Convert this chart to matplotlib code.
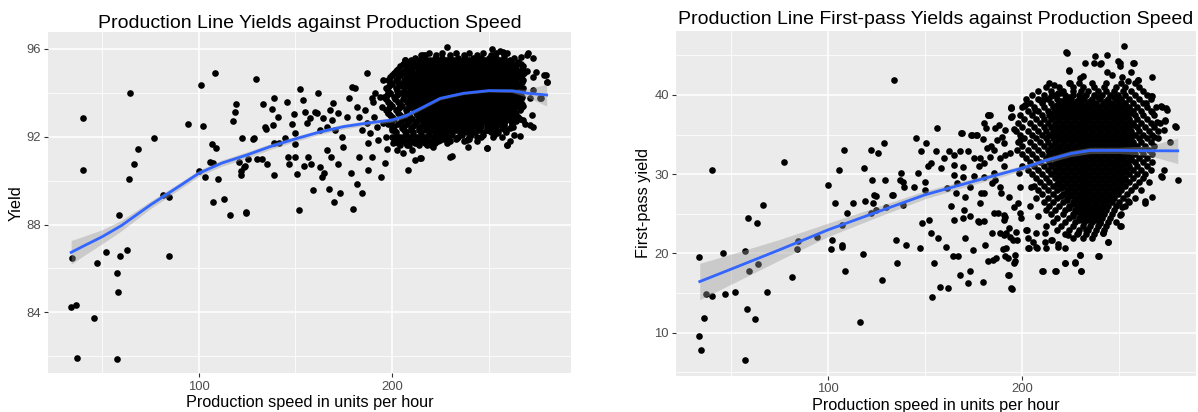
import numpy as np
import matplotlib
matplotlib.use('Agg')
import matplotlib.pyplot as plt

plt.rcParams['font.family'] = ['Liberation Sans', 'DejaVu Sans']

# ---------------- left chart: yield vs speed ----------------
# scattered points outside the dense cloud
left_sparse = [
    (33.9, 84.24), (36.3, 84.31), (37.0, 81.93), (34.4, 86.46), (40.3, 92.87), (40.1, 90.50),
    (45.8, 83.75), (47.2, 86.26), (52.1, 86.76), (57.5, 85.80), (58.2, 84.92), (57.6, 81.88),
    (58.7, 88.43), (59.4, 86.58), (62.7, 86.84), (63.7, 90.07), (64.2, 93.98), (66.5, 90.77),
    (68.6, 91.46), (76.9, 91.93), (81.4, 89.34), (84.4, 89.25), (84.7, 86.58), (94.6, 92.57),
    (100.2, 90.45), (101.4, 94.37), (102.4, 92.47), (103.5, 90.15), (105.7, 90.85), (107.1, 91.65),
    (107.6, 90.82), (107.6, 89.01), (108.3, 94.92), (109.0, 91.49), (110.2, 90.09), (113.0, 89.16),
    (116.3, 88.42), (117.9, 92.73), (118.6, 93.11), (119.4, 93.49), (121.0, 90.86), (121.9, 90.26),
    (122.0, 90.45), (122.6, 91.96), (123.3, 90.64), (124.0, 90.68), (124.5, 88.58), (124.7, 88.54),
    (125.5, 90.98), (128.0, 91.90), (128.8, 91.93), (129.5, 94.62), (130.4, 90.98), (133.0, 90.98),
    (133.3, 93.49), (134.2, 92.46), (134.9, 92.37), (135.4, 90.76), (137.8, 93.26), (138.2, 92.53),
    (138.9, 93.75), (139.2, 90.27), (138.9, 91.70), (141.0, 92.91), (141.7, 91.73), (144.6, 91.96),
    (145.7, 93.60), (146.0, 91.08), (146.5, 90.74), (148.3, 92.57), (149.3, 93.04), (149.8, 92.19),
    (149.8, 91.65), (149.7, 91.09), (150.9, 90.29), (151.9, 88.66), (152.3, 94.16),
    (154.5, 90.67), (156.8, 91.09), (158.1, 90.74), (159.3, 89.57), (161.9, 94.01), (162.8, 90.64),
    (163.8, 90.18), (164.8, 90.33), (166.2, 91.40), (167.2, 89.63), (168.4, 91.09), (169.9, 89.04),
    (172.0, 90.74), (173.2, 89.42), (178.6, 90.33), (180.0, 88.71), (181.8, 89.83), (184.7, 89.42),
    (183.0, 91.09), (186.9, 94.92), (187.8, 90.48), (194.3, 90.18), (196.4, 90.79), (197.6, 91.43),
    (208.1, 90.48), (211.9, 90.94), (215.0, 91.02), (230.9, 91.12), (249.3, 91.47), (259.3, 91.62),
    (261.0, 91.80), (263.3, 92.08), (266.2, 92.03), (273.1, 92.46), (271.4, 92.53), (280.4, 94.48),
    (279.6, 94.81), (277.0, 93.75), (274.4, 94.97), (270.1, 95.80), (266.6, 95.65), (273.1, 94.13),
    (251.6, 96.0), (228.3, 96.1), (255.9, 95.92), (259.3, 95.8), (217.1, 95.73), (206.9, 95.50),
    (202.4, 95.01), (195.2, 94.59), (191.2, 93.98), (190.0, 93.6),
    (154.2, 93.67), (155.0, 93.14), (155.9, 92.61), (157.6, 92.84), (160.2, 93.14), (161.4, 93.07),
    (162.8, 92.31), (164.5, 92.84), (166.2, 92.46), (168.0, 93.22), (168.8, 92.76), (169.7, 93.52),
    (170.5, 92.31), (172.2, 93.07), (174.0, 92.0), (174.8, 91.55), (176.6, 92.91), (177.9, 93.75),
    (179.1, 94.28), (180.9, 94.21), (181.8, 93.37), (183.1, 92.91), (184.3, 92.31), (186.1, 93.22),
    (186.9, 92.61), (187.8, 91.70), (188.6, 92.15), (189.5, 91.09), (190.7, 92.91), (192.1, 92.46),
    (192.9, 91.85), (193.8, 93.83), (194.7, 93.37), (195.5, 92.61), (196.9, 92.0), (198.1, 93.07),
    (199.0, 93.98), (199.8, 92.31), (200.7, 91.70), (202.4, 91.40), (204.1, 91.85), (205.9, 91.24),
    (207.6, 91.62), (210.2, 91.40), (212.8, 91.70), (218.0, 91.62), (221.4, 91.55), (224.9, 91.85),
    (228.3, 91.70), (233.4, 91.93), (238.6, 91.85), (243.8, 92.0), (249.0, 92.31), (254.1, 92.15),
    (262.8, 92.46), (267.9, 92.76),
    (216.0, 95.7), (206.7, 95.5), (202.4, 95.04), (257.6, 95.87), (269.8, 95.72), (273.1, 95.58),
    (273.1, 94.7), (278.5, 94.8), (280.2, 94.5), (276.7, 93.75), (271.5, 93.75), (272.4, 92.99),
    (268.8, 92.6), (259.4, 91.62), (249.0, 91.47), (239.4, 91.54), (230.1, 91.09), (214.5, 91.02),
    (189.5, 93.75),
]

# dense cloud, one row of x values per yield level
left_core_y = [95.8, 95.6, 95.4, 95.2, 95.0, 94.8, 94.6, 94.4, 94.2, 94.0, 93.8,
               93.6, 93.4, 93.2, 93.0, 92.8, 92.6, 92.4, 92.2, 92.0, 91.8, 91.6]
left_core_x = [
    [219, 226, 233, 240, 247, 254],
    [212, 217, 222, 226, 230, 234, 238, 242, 246, 250, 254, 258, 263],
    [207, 211, 215, 218, 221, 224, 227, 230, 233, 236, 239, 242, 245, 248, 251, 254, 257, 260, 265],
    [204, 208, 212, 216, 219, 222, 225, 228, 231, 234, 237, 240, 243, 246, 249, 252, 255, 258, 261, 264, 268],
    [202, 206, 210, 213.5, 217, 220, 223, 226, 229, 232, 235, 238, 241, 244, 247, 250, 253, 256, 259, 262, 265, 270],
    [200, 204, 208, 211.5, 215, 218.5, 221.5, 224.5, 227.5, 230.5, 233.5, 236.5, 239.5, 242.5, 245.5, 248.5,
     251.5, 254.5, 257.5, 260.5, 263.5, 267],
    [198, 202, 206, 210, 213, 216, 219, 222, 225, 228, 231, 234, 237, 240, 243, 246, 249, 252, 255, 258, 261,
     264, 268],
    [200, 204, 208, 211.5, 214.5, 217.5, 220.5, 223.5, 226.5, 229.5, 232.5, 235.5, 238.5, 241.5, 244.5, 247.5,
     250.5, 253.5, 256.5, 259.5, 262.5, 266],
    [197, 202, 206, 210, 213, 216, 219, 222, 225, 228, 231, 234, 237, 240, 243, 246, 249, 252, 255, 258, 261,
     264, 268],
    [199, 204, 208, 211.5, 214.5, 217.5, 220.5, 223.5, 226.5, 229.5, 232.5, 235.5, 238.5, 241.5, 244.5, 247.5,
     250.5, 253.5, 256.5, 259.5, 262.5, 266],
    [196, 201, 206, 210, 213, 216, 219, 222, 225, 228, 231, 234, 237, 240, 243, 246, 249, 252, 255, 258, 261,
     264, 267],
    [198, 203, 208, 211.5, 214.5, 217.5, 220.5, 223.5, 226.5, 229.5, 232.5, 235.5, 238.5, 241.5, 244.5, 247.5,
     250.5, 253.5, 256.5, 259.5, 262.5, 265.5],
    [200, 205, 210, 213, 216, 219, 222, 225, 228, 231, 234, 237, 240, 243, 246, 249, 252, 255, 258, 261, 264, 268],
    [197, 202, 207, 211.5, 214.5, 217.5, 220.5, 223.5, 226.5, 229.5, 232.5, 235.5, 238.5, 241.5, 244.5, 247.5,
     250.5, 253.5, 256.5, 259.5, 262.5, 266],
    [199, 204, 209, 213, 216, 219, 222, 225, 228, 231, 234, 237, 240, 243, 246, 249, 252, 255, 258, 261, 264],
    [201, 206, 210.5, 214.5, 217.5, 220.5, 223.5, 226.5, 229.5, 232.5, 235.5, 238.5, 241.5, 244.5, 247.5, 250.5,
     253.5, 256.5, 259.5, 262.5, 266],
    [198, 203, 208, 212, 216, 219, 222, 225, 228, 231, 234, 237, 240, 243, 246, 249, 252, 255, 258, 262],
    [200, 205, 210, 214, 217.5, 220.5, 223.5, 226.5, 229.5, 232.5, 235.5, 238.5, 241.5, 245, 249, 253, 257, 261],
    [202, 207, 211, 215, 219, 222, 225, 228, 231, 235, 239, 243, 247, 251, 255, 259],
    [200, 204, 209, 213, 217, 221, 225, 229, 234, 240, 246, 252, 257],
    [202, 206, 211, 215, 219, 224, 230, 237, 244],
    [204, 209, 214, 220],
]

# the in-between levels of the same cloud
left_fill_y = [95.7, 95.5, 95.3, 95.1, 94.9, 94.7, 94.5, 94.3, 94.1, 93.9, 93.7,
               93.5, 93.3, 93.1, 92.9, 92.7, 92.5, 92.3, 92.1, 91.9, 91.7]
left_fill_x = [
    [215, 223, 230, 237, 244, 251, 258],
    [210, 214, 219.5, 224, 228, 232, 236, 240, 244, 248, 252, 256, 261],
    [205.5, 209.5, 213.5, 216.5, 219.5, 222.5, 225.5, 228.5, 231.5, 234.5, 237.5, 240.5, 243.5, 246.5, 249.5,
     252.5, 255.5, 258.5, 262.5, 266.5],
    [203, 207, 210.5, 214.5, 218, 221, 224, 227, 230, 233, 236, 239, 242, 245, 248, 251, 254, 257, 260, 263, 267],
    [201, 205, 209, 213, 216.5, 219.5, 222.5, 225.5, 228.5, 231.5, 234.5, 237.5, 240.5, 243.5, 246.5, 249.5,
     252.5, 255.5, 258.5, 261.5, 265, 268.5],
    [199, 203, 207, 210.5, 214, 217, 220, 223, 226, 229, 232, 235, 238, 241, 244, 247, 250, 253, 256, 259, 262,
     265.5],
    [199, 203, 206.5, 209.5, 212.5, 215.5, 218.5, 221.5, 224.5, 227.5, 230.5, 233.5, 236.5, 239.5, 242.5, 245.5,
     248.5, 251.5, 254.5, 257.5, 260.5, 263.5, 267],
    [198.5, 203.5, 207, 210.5, 214, 217, 220, 223, 226, 229, 232, 235, 238, 241, 244, 247, 250, 253, 256, 259,
     262, 265],
    [198, 202.5, 206, 209.5, 212.5, 215.5, 218.5, 221.5, 224.5, 227.5, 230.5, 233.5, 236.5, 239.5, 242.5, 245.5,
     248.5, 251.5, 254.5, 257.5, 260.5, 263.5, 267],
    [197.5, 202.5, 207, 210.5, 214, 217, 220, 223, 226, 229, 232, 235, 238, 241, 244, 247, 250, 253, 256, 259,
     262, 265.5],
    [197, 201.5, 205.5, 209.5, 212.5, 215.5, 218.5, 221.5, 224.5, 227.5, 230.5, 233.5, 236.5, 239.5, 242.5,
     245.5, 248.5, 251.5, 254.5, 257.5, 260.5, 263.5, 266.5],
    [199, 204, 209, 213, 216, 219, 222, 225, 228, 231, 234, 237, 240, 243, 246, 249, 252, 255, 258, 261, 264, 267],
    [198.5, 203.5, 208.5, 212, 215, 218, 221, 224, 227, 230, 233, 236, 239, 242, 245, 248, 251, 254, 257, 260,
     263, 266.5],
    [198, 203, 208, 212.5, 215.5, 218.5, 221.5, 224.5, 227.5, 230.5, 233.5, 236.5, 239.5, 242.5, 245.5, 248.5,
     251.5, 254.5, 257.5, 260.5, 263.5],
    [200, 205, 209.5, 214, 217, 220, 223, 226, 229, 232, 235, 238, 241, 244, 247, 250, 253, 256, 259, 262, 265],
    [199.5, 204.5, 209, 213, 216.5, 219.5, 222.5, 225.5, 228.5, 231.5, 234.5, 237.5, 240.5, 243.5, 246.5, 249.5,
     252.5, 255.5, 258.5, 261.5, 264],
    [201, 206, 211, 215, 218.5, 221.5, 224.5, 227.5, 230.5, 233.5, 236.5, 239.5, 242.5, 246, 250, 254, 258, 262],
    [201, 206, 210, 214, 217.5, 220.5, 223.5, 226.5, 229.5, 233, 237, 241, 245, 249.5, 254, 258.5],
    [202, 206.5, 211, 215, 219, 223, 227, 231, 236, 241, 247, 253],
    [201, 205, 209, 213, 217, 221.5, 227, 233, 240],
    [203, 207, 212, 217, 222],
]

# fitted smooth and its confidence half-width
left_fit_x = [34, 40, 50, 60, 75, 90, 100, 112, 125, 137, 150, 162, 175, 187, 200, 207, 215, 225, 237, 250, 262,
              270, 280]
left_fit_y = [86.73, 87.0, 87.44, 87.95, 88.89, 89.75, 90.33, 90.8, 91.17, 91.55, 91.9, 92.2, 92.46, 92.62,
              92.76, 92.95, 93.3, 93.75, 93.98, 94.1, 94.09, 93.98, 93.9]
left_fit_se = [0.54, 0.45, 0.32, 0.24, 0.17, 0.15, 0.14, 0.14, 0.14, 0.13, 0.12, 0.11, 0.11, 0.1, 0.1, 0.09,
               0.08, 0.07, 0.06, 0.06, 0.08, 0.18, 0.5]

# ---------------- right chart: first-pass yield vs speed ----------------
right_sparse = [
    (33.6, 19.57), (33.6, 9.64), (34.5, 7.75), (36.4, 11.91), (37.1, 14.94), (40.2, 14.60), (40.5, 30.55),
    (45.9, 20.11), (47.2, 14.90), (52.1, 15.19), (57.4, 20.32), (58.3, 13.00), (57.4, 6.57), (58.8, 24.53),
    (59.5, 17.72), (62.6, 11.70), (63.6, 23.82), (64.1, 18.64), (66.6, 26.05), (68.6, 15.19), (77.1, 31.47),
    (81.4, 17.0), (84.5, 21.59), (84.3, 20.53), (94.5, 22.05), (100.0, 28.57), (101.4, 20.53), (102.2, 21.71),
    (103.4, 26.34), (105.9, 30.55), (107.1, 20.87), (107.4, 21.0), (107.4, 23.56), (108.1, 32.99),
    (109.0, 17.84), (110.0, 25.16), (112.9, 26.34), (116.6, 11.36), (118.0, 19.90), (118.4, 30.80),
    (119.3, 26.63), (121.9, 25.08), (122.1, 32.99), (122.4, 29.24), (123.1, 26.42), (123.6, 27.31),
    (124.5, 27.22), (124.7, 25.46), (125.5, 32.69), (127.9, 16.66), (128.6, 33.87), (129.3, 29.20),
    (130.0, 25.84), (132.9, 27.31), (133.4, 27.39), (134.1, 41.82), (134.8, 21.75), (135.3, 18.73),
    (136.9, 29.28),
    (137.6, 30.1), (138.5, 29.07), (139.3, 28.44), (138.5, 26.13), (140.2, 21.08), (144.5, 28.44),
    (145.4, 34.54), (146.2, 30.1), (147.1, 20.66), (148.0, 32.86), (148.3, 23.82), (149.7, 29.07),
    (150.5, 33.91), (149.7, 28.0), (151.4, 30.97), (152.2, 24.24), (153.1, 22.55), (153.1, 31.39),
    (153.4, 14.48), (154.8, 18.77), (155.7, 32.86), (156.2, 35.81), (156.5, 21.92), (157.7, 15.82),
    (158.2, 30.76), (159.9, 32.02), (160.8, 20.87), (161.3, 28.23), (161.9, 15.61), (162.5, 32.86),
    (163.4, 25.92), (164.2, 19.61), (165.1, 31.18), (166.0, 27.6), (166.8, 19.61), (167.7, 17.29),
    (168.6, 35.17), (169.4, 24.45), (170.3, 21.92), (172.0, 32.86), (172.3, 16.24), (172.9, 17.72),
    (173.7, 34.96), (174.6, 20.45), (175.4, 29.71), (176.3, 34.96), (177.1, 24.03), (178.0, 32.02),
    (178.9, 27.6), (179.7, 16.45), (180.9, 21.08), (181.4, 35.81), (182.3, 18.98), (182.6, 37.49),
    (184.0, 33.49), (184.9, 19.19), (185.7, 29.28), (186.6, 19.40), (187.5, 25.08), (188.3, 22.55),
    (189.2, 27.6), (190.5, 24.87), (190.9, 19.61), (191.8, 20.66), (192.6, 17.29), (193.5, 32.65),
    (194.0, 38.33), (194.3, 15.61), (195.2, 21.71), (196.0, 18.98), (197.0, 22.76), (197.8, 26.34),
    (198.6, 28.44), (199.5, 24.45), (200.9, 38.54), (201.7, 22.97), (202.9, 20.66), (203.8, 25.92),
    (204.6, 28.44), (205.5, 21.5), (206.4, 38.12), (207.2, 20.87), (208.1, 24.66), (210.3, 17.72),
    (211.5, 22.55), (212.4, 23.40), (214.9, 21.71), (217.0, 17.84), (218.4, 20.87), (221.8, 18.77),
    (223.5, 22.34), (227.0, 18.77), (229.6, 19.82), (230.1, 17.72), (228.7, 22.55), (233.0, 22.97),
    (239.0, 19.69), (241.6, 22.55), (244.2, 21.5), (250.2, 23.40), (254.5, 26.55), (263.1, 26.55),
    (266.5, 27.18), (271.6, 29.71), (273.0, 30.55), (279.9, 29.28), (278.5, 36.02), (274.2, 38.33),
    (271.6, 38.54), (273.4, 36.65), (275.9, 34.0), (266.2, 39.80), (259.3, 41.91), (257.0, 44.01),
    (252.1, 46.2), (249.3, 44.22), (243.6, 45.06), (240.7, 44.01), (237.3, 44.85), (222.7, 45.36),
    (224.1, 43.08), (232.1, 44.01), (229.6, 42.12), (218.4, 40.22), (214.9, 39.80), (210.7, 39.38),
    (201.2, 38.75), (194.7, 37.28), (187.8, 36.23), (182.3, 37.49),
    (168.9, 35.18), (164.6, 32.44), (168.0, 32.86), (174.1, 34.96), (176.6, 34.96), (180.1, 36.44),
    (183.2, 37.49), (186.1, 35.8), (194.3, 38.4), (194.3, 37.2), (195.5, 35.68), (179.7, 34.46),
    (181.8, 33.28), (187.0, 34.33), (190.4, 33.9), (185.3, 33.1), (183.6, 32.2), (188.7, 32.0),
    (191.3, 32.4), (180.1, 31.4), (174.9, 32.0), (177.5, 31.0), (169.7, 30.96), (169.7, 29.7),
    (164.9, 29.9), (180.1, 29.7), (185.3, 30.1), (190.4, 31.0), (197.3, 33.07), (199.0, 34.33),
    (199.8, 31.0), (198.1, 30.1), (188.7, 28.44), (193.0, 27.18), (195.5, 25.9), (199.0, 25.1),
    (184.4, 28.86), (180.1, 27.6), (178.4, 26.34), (173.2, 28.44), (170.6, 27.18), (166.3, 28.86),
    (190.4, 24.24), (185.3, 25.08), (180.1, 24.03), (173.2, 24.66), (169.8, 25.5), (164.6, 24.24),
    (193.8, 22.1), (184.4, 22.55), (177.5, 24.0), (190.4, 22.3), (223.0, 45.28),
    (236.8, 44.01), (240.2, 43.9), (250.2, 44.0), (250.5, 43.7), (257.7, 44.0), (224.2, 43.05),
    (255.7, 42.95), (243.6, 42.95), (246.2, 42.5), (231.1, 42.4), (251.4, 42.3), (266.5, 42.24),
    (259.4, 41.9), (254.5, 41.7), (216.1, 41.2), (224.7, 41.5), (219.6, 40.2), (194.3, 38.5),
    (194.3, 37.2), (201.5, 38.7), (209.3, 39.3), (266.9, 39.8), (263.8, 38.97), (272.0, 38.46),
    (274.6, 38.1), (266.9, 37.8), (269.4, 36.64), (273.7, 36.77), (279.2, 36.0), (272.8, 35.6),
    (267.7, 34.75), (191.2, 35.6), (189.6, 34.75),
    (272.0, 29.6), (263.4, 26.4), (251.4, 25.9), (250.2, 24.86), (250.9, 23.5), (241.6, 22.6),
    (244.2, 21.45), (239.8, 23.8), (239.3, 19.7), (229.9, 19.8), (227.2, 18.9), (222.2, 18.76),
    (230.3, 17.8), (217.4, 17.83), (210.5, 17.75), (222.2, 20.66), (218.2, 21.2), (212.4, 20.66),
    (207.6, 20.7), (203.3, 20.7), (202.8, 21.9), (197.3, 21.7), (196.4, 19.8), (195.8, 18.85),
    (192.9, 17.3), (194.5, 15.56), (192.4, 19.4), (190.3, 20.5), (191.4, 22.6), (192.9, 23.2),
    (191.3, 24.65), (202.5, 22.97), (207.3, 22.55), (211.9, 21.5), (215.3, 21.7),
]

right_core_y = [41.5, 41.0, 40.5, 40.0, 39.5, 39.0, 38.5, 38.0, 37.5, 37.0, 36.5, 36.0, 35.5, 35.0, 34.5,
                34.0, 33.5, 33.0, 32.5, 32.0, 31.5, 31.0, 30.5, 30.0, 29.5, 29.0, 28.5, 28.0, 27.5, 27.0,
                26.5, 26.0, 25.5, 25.0, 24.5, 24.0, 23.5, 23.0, 22.5, 22.0]
right_core_x = [
    [214, 224, 229, 236, 243, 251, 258],
    [212, 219, 226, 231, 237, 242, 248, 253, 260],
    [208, 215, 221, 226, 230, 234, 239, 243, 247, 252, 256, 262],
    [205, 211, 217, 222, 226, 229, 233, 237, 241, 245, 249, 253, 258, 264],
    [202, 208, 213, 218, 222, 225, 229, 232, 236, 240, 244, 248, 251, 255, 260, 266],
    [204, 210, 215, 219, 223, 227, 230, 234, 238, 242, 246, 249, 253, 257, 262],
    [200, 206, 211, 216, 220, 224, 228, 231, 235, 239, 243, 247, 251, 255, 259, 264, 269],
    [203, 208, 213, 217, 221, 225, 229, 233, 237, 241, 245, 249, 253, 257, 261, 266],
    [199, 205, 210, 214, 218, 222, 226, 230, 234, 238, 242, 246, 250, 254, 258, 262, 268],
    [201, 207, 211, 215, 219, 223, 227, 231, 235, 239, 243, 247, 251, 255, 259, 264],
    [198, 204, 209, 213, 217, 221, 225, 229, 233, 237, 241, 245, 249, 253, 257, 261, 266, 271],
    [200, 206, 211, 215, 219, 223, 227, 231, 235, 239, 243, 247, 251, 255, 259, 263, 268],
    [197, 203, 208, 212, 216, 220, 224, 228, 232, 236, 240, 244, 248, 252, 256, 260, 265, 270],
    [199, 205, 210, 214, 218, 222, 226, 230, 234, 238, 242, 246, 250, 254, 258, 262, 267],
    [201, 207, 212, 216, 220, 224, 228, 232, 236, 240, 244, 248, 252, 256, 260, 264, 270],
    [198, 204, 209, 213, 217, 221, 225, 229, 233, 237, 241, 245, 249, 253, 257, 261, 266],
    [200, 206, 211, 215, 219, 223, 227, 231, 235, 239, 243, 247, 251, 255, 259, 263, 268],
    [203, 208, 213, 217, 221, 225, 229, 233, 237, 241, 245, 249, 253, 257, 261, 265],
    [200, 205, 210, 214, 218, 222, 226, 230, 234, 238, 242, 246, 250, 254, 258, 262, 267],
    [202, 207, 212, 216, 220, 224, 228, 232, 236, 240, 244, 248, 252, 256, 260, 264],
    [204, 209, 214, 218, 222, 226, 230, 234, 238, 242, 246, 250, 254, 258, 262, 267],
    [206, 211, 215, 219, 223, 227, 231, 235, 239, 243, 247, 251, 255, 259, 264],
    [203, 208, 213, 217, 221, 225, 229, 233, 237, 241, 245, 249, 253, 257, 261, 266],
    [205, 210, 215, 219, 223, 227, 231, 235, 239, 243, 247, 251, 255, 259, 263],
    [207, 212, 217, 221, 225, 229, 233, 237, 241, 245, 249, 253, 257, 262],
    [209, 214, 219, 223, 227, 231, 235, 239, 243, 247, 251, 255, 260, 265],
    [206, 211, 216, 221, 225, 229, 233, 237, 241, 245, 249, 253, 258],
    [208, 213, 218, 223, 227, 231, 235, 239, 243, 247, 251, 256, 261],
    [210, 216, 221, 225, 229, 233, 237, 241, 245, 249, 254],
    [207, 213, 218, 223, 227, 231, 235, 239, 243, 247, 252, 258],
    [211, 216, 221, 226, 230, 234, 238, 242, 246, 250, 255],
    [214, 219, 224, 228, 232, 236, 240, 244, 248, 253],
    [212, 217, 222, 227, 231, 235, 239, 243, 247],
    [215, 221, 226, 230, 234, 238, 242, 246, 251],
    [218, 224, 229, 233, 237, 241, 245],
    [216, 222, 227, 232, 236, 240, 244, 248],
    [220, 226, 231, 235, 239, 243],
    [218, 224, 229, 234, 238, 242],
    [222, 228, 233, 237],
    [226, 231, 236],
]

# in-between levels, only in the darkest middle so the rim stays open
right_fill_y = [39.75, 39.25, 38.75, 38.25, 37.75, 37.25, 36.75, 36.25, 35.75, 35.25, 34.75,
                34.25, 33.75, 33.25, 32.75, 32.25, 31.75, 31.25, 30.75, 30.25, 29.75, 29.25, 28.75,
                28.25, 27.75, 27.25, 26.75, 26.25, 25.75, 25.25, 24.75, 24.25]
right_fill_x = [
    [224, 231, 239, 247],
    [220, 224, 228, 235, 243, 251],
    [218, 222, 226, 229.5, 233, 237, 241, 245, 249, 253],
    [219, 223, 227, 231, 235, 239, 243, 247, 251, 255],
    [216, 220, 224, 228, 232, 236, 240, 244, 248, 252, 256],
    [217, 221, 225, 229, 233, 237, 241, 245, 249, 253],
    [219, 223, 227, 231, 235, 239, 243, 247, 251, 255],
    [217, 221, 225, 229, 233, 237, 241, 245, 249, 253, 257],
    [218, 222, 226, 230, 234, 238, 242, 246, 250, 254],
    [216, 220, 224, 228, 232, 236, 240, 244, 248, 252, 256],
    [218, 222, 226, 230, 234, 238, 242, 246, 250, 254],
    [219, 223, 227, 231, 235, 239, 243, 247, 251, 255],
    [217, 221, 225, 229, 233, 237, 241, 245, 249, 253, 257],
    [219, 223, 227, 231, 235, 239, 243, 247, 251, 255],
    [216, 220, 224, 228, 232, 236, 240, 244, 248, 252, 256],
    [218, 222, 226, 230, 234, 238, 242, 246, 250, 254],
    [220, 224, 228, 232, 236, 240, 244, 248, 252, 256],
    [217, 221, 225, 229, 233, 237, 241, 245, 249, 253],
    [219, 223, 227, 231, 235, 239, 243, 247, 251, 255],
    [217, 221, 225, 229, 233, 237, 241, 245, 249, 253],
    [219, 223, 227, 231, 235, 239, 243, 247, 251],
    [221, 225, 229, 233, 237, 241, 245, 249, 253],
    [218, 223, 227, 231, 235, 239, 243, 247, 251],
    [220, 225, 229, 233, 237, 241, 245, 249],
    [223, 227, 231, 235, 239, 243, 247],
    [220, 225, 229, 233, 237, 241, 245],
    [223, 228, 232, 236, 240, 244],
    [226, 230, 234, 238, 242],
    [224, 229, 233, 237, 241],
    [228, 232, 236, 240],
    [226, 231, 235, 239],
    [229, 234, 238],
]

right_fit_x = [34, 50, 75, 100, 125, 150, 175, 200, 212, 225, 235, 250, 265, 280]
right_fit_y = [16.45, 18.0, 20.45, 22.97, 25.2, 27.4, 29.1, 30.76, 31.72, 32.6, 32.99, 33.0, 32.95, 32.94]
right_fit_se = [2.3, 1.9, 1.3, 0.85, 0.65, 0.5, 0.4, 0.35, 0.35, 0.38, 0.4, 0.4, 0.6, 1.6]


def flatten(sparse, *rows):
    xs = [p[0] for p in sparse]
    ys = [p[1] for p in sparse]
    for core_y, core_x in rows:
        for yv, row in zip(core_y, core_x):
            xs += row
            ys += [yv] * len(row)
    return np.array(xs, dtype=float), np.array(ys, dtype=float)


def gg_panel(ax, xs, ys, fx, fy, fse, xlim, ylim, yticks, yminor, ylabel, title, title_pad):
    ax.set_facecolor('#EBEBEB')
    for s in ax.spines.values():
        s.set_visible(False)
    ax.set_xlim(*xlim)
    ax.set_ylim(*ylim)
    ax.set_xticks([100, 200])
    ax.set_xticks([50, 150, 250], minor=True)
    ax.set_yticks(yticks)
    ax.set_yticks(yminor, minor=True)
    ax.grid(which='major', color='white', lw=1.1)
    ax.grid(which='minor', color='white', lw=0.55)
    ax.set_axisbelow(True)
    ax.tick_params(which='major', length=3, width=0.8, color='#333333', labelcolor='#4D4D4D',
                   labelsize=9.4, pad=2.2)
    ax.tick_params(which='minor', length=0)

    ax.scatter(xs, ys, s=23, c='black', linewidths=0, zorder=2)
    fx = np.array(fx)
    fy = np.array(fy)
    fse = np.array(fse)
    ax.fill_between(fx, fy - fse, fy + fse, color='#999999', alpha=0.4, lw=0, zorder=3)
    ax.plot(fx, fy, color='#3366FF', lw=2.0, zorder=4)

    ax.set_xlabel('Production speed in units per hour', fontsize=11.7, labelpad=2)
    ax.set_ylabel(ylabel, fontsize=11.7, labelpad=2)
    ax.set_title(title, fontsize=14, pad=title_pad)


fig = plt.figure(figsize=(11.98, 4.12), dpi=100)
ax1 = fig.add_axes([0.04007, 0.0939, 0.43656, 0.8284])
ax2 = fig.add_axes([0.56427, 0.0881, 0.43406, 0.8374])

lx, ly = flatten(left_sparse, (left_core_y, left_core_x), (left_fill_y, left_fill_x))
rx, ry = flatten(right_sparse, (right_core_y, right_core_x), (right_fill_y, right_fill_x))

gg_panel(ax1, lx, ly, left_fit_x, left_fit_y, left_fit_se, (22.04, 292.6), (81.22, 96.77),
         [84, 88, 92, 96], [82, 86, 90, 94], 'Yield',
         'Production Line Yields against Production Speed', 2.9)
gg_panel(ax2, rx, ry, right_fit_x, right_fit_y, right_fit_se, (21.77, 289.4), (4.57, 48.1),
         [10, 20, 30, 40], [5, 15, 25, 35, 45], 'First-pass yield',
         'Production Line First-pass Yields against Production Speed', 4.8)

fig.savefig('out.png', dpi=100)
